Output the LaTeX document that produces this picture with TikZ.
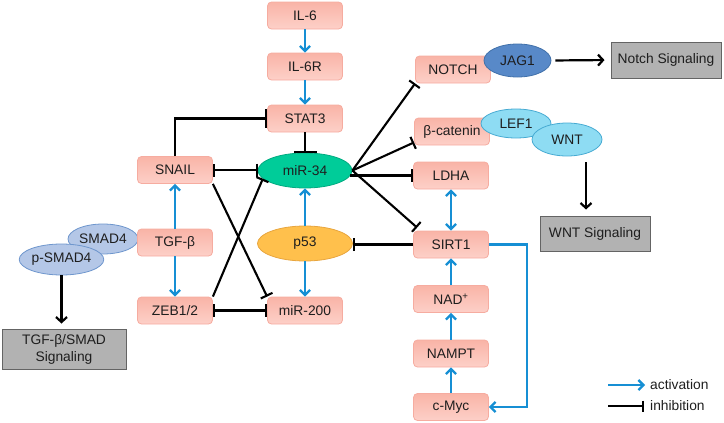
\documentclass[tikz,border=0pt]{standalone}
\usepackage{fontspec}
\setmainfont{Liberation Sans}
\usetikzlibrary{arrows.meta,shapes.geometric,calc}
\definecolor{actblue}{RGB}{22,143,212}
\definecolor{boxtop}{RGB}{249,180,167}
\definecolor{boxbot}{RGB}{253,208,200}
\definecolor{boxline}{RGB}{246,172,160}
\definecolor{mirgreen}{RGB}{0,204,153}
\definecolor{mirline}{RGB}{0,170,128}
\definecolor{porange}{RGB}{255,192,76}
\definecolor{pline}{RGB}{232,165,62}
\definecolor{jagblue}{RGB}{88,137,200}
\definecolor{jagline}{RGB}{65,113,170}
\definecolor{lefblue}{RGB}{142,220,243}
\definecolor{lefline}{RGB}{70,170,210}
\definecolor{smadblue}{RGB}{180,199,231}
\definecolor{smadline}{RGB}{110,150,205}
\definecolor{sigfill}{RGB}{178,178,178}
\definecolor{sigline}{RGB}{100,100,100}
\definecolor{txt}{RGB}{30,30,30}
\begin{document}
\begin{tikzpicture}[x=1pt,y=-1pt,
  font=\fontsize{13.8}{17}\selectfont, text=txt,
  gene/.style={rectangle, rounded corners=4pt, draw=boxline, line width=0.8pt, top color=boxtop, bottom color=boxbot, minimum width=75pt, minimum height=27pt, inner sep=0pt},
  oval/.style={ellipse, inner sep=0pt, line width=0.8pt},
  sigbox/.style={rectangle, draw=sigline, fill=sigfill, line width=1pt, inner sep=0pt, align=center},
  act/.style={draw=actblue, line width=2.3pt, -{Straight Barb[length=5pt,width=10pt]}},
  actboth/.style={act, {Straight Barb[length=5pt,width=10pt]}-{Straight Barb[length=5pt,width=10pt]}},
  inh/.style={draw=black, line width=2.1pt, -{Bar[width=13pt]}},
  inhboth/.style={inh, {Bar[width=13pt]}-{Bar[width=13pt]}},
  blk/.style={draw=black, line width=2.2pt, -{Straight Barb[length=5pt,width=11pt]}},
]
\useasboundingbox (0,0) rectangle (724,423);

% left and middle genes
\node[gene] (il6) at (305,15.5) {IL-6};
\node[gene] (il6r) at (305,66.5) {IL-6R};
\node[gene] (stat3) at (305,118.5) {STAT3};
\node[gene] (snail) at (175,170) {SNAIL};
\node[oval, draw=mirline, fill=mirgreen, minimum width=94pt, minimum height=35pt] (mir34) at (305,170.5) {miR-34};
\node[oval, draw=smadline, fill=smadblue, minimum width=70pt, minimum height=30pt] (smad4) at (103,239) {SMAD4};
\node[oval, draw=smadline, fill=smadblue, minimum width=81pt, minimum height=31pt] (psmad4) at (61.5,259.5) {p-SMAD4};
\node[gene] (tgfb) at (175,242.5) {TGF-β};
\node[oval, draw=pline, fill=porange, minimum width=95pt, minimum height=35pt] (p53) at (305,243.5) {p53};
\node[gene] (zeb) at (175,310.5) {ZEB1/2};
\node[gene] (mir200) at (305,310.5) {miR-200};
\node[sigbox, minimum width=124pt, minimum height=40pt] (tgfsig) at (64,349) {TGF-β/SMAD\\Signaling};

% right column
\node[gene] (notch) at (453,69.5) {NOTCH};
\node[oval, draw=jagline, fill=jagblue, minimum width=67pt, minimum height=33pt] (jag1) at (517.5,60.5) {JAG1};
\node[sigbox, minimum width=110pt, minimum height=36pt] (notchsig) at (666,60) {Notch Signaling};
\node[gene] (bcat) at (452,131.5) {β-catenin};
\node[oval, draw=lefline, fill=lefblue, minimum width=70pt, minimum height=29pt] (lef1) at (516,123.5) {LEF1};
\node[oval, draw=lefline, fill=lefblue, minimum width=70pt, minimum height=33pt] (wnt) at (567,139.5) {WNT};
\node[sigbox, minimum width=110pt, minimum height=35pt] (wntsig) at (595,233.5) {WNT Signaling};
\node[gene] (ldha) at (451,175.5) {LDHA};
\node[gene] (sirt1) at (451,244.5) {SIRT1};
\node[gene] (nad) at (451,299) {NAD\textsuperscript{+}};
\node[gene] (nampt) at (451,353.5) {NAMPT};
\node[gene] (cmyc) at (451,407) {c-Myc};

% activation arrows
\draw[act] (il6.south) -- (il6r.north);
\draw[act] (il6r.south) -- (stat3.north);
\draw[act] (tgfb.north) -- (snail.south);
\draw[act] (tgfb.south) -- (zeb.north);
\draw[act] (p53.north) -- (mir34.south);
\draw[act] (p53.south) -- (mir200.north);
\draw[actboth] (ldha.south) -- (sirt1.north);
\draw[act] (nad.north) -- (sirt1.south);
\draw[act] (nampt.north) -- (nad.south);
\draw[act] (cmyc.north) -- (nampt.south);
\draw[act] (sirt1.east) -- ++(38,0) |- (cmyc.east);

% inhibition
\draw[inh, -{Bar[width=19pt]}] (snail.north) |- (stat3.west);
\draw[inh, -{Bar[width=23pt]}] (stat3.south) -- (mir34.north);
\draw[inhboth] (snail.east) -- (snail.east -| mir34.west);
\draw[inh] (snail.south east) -- (mir200.north west);
\draw[inh] (zeb.north east) -- (mir34.191);
\draw[inhboth] (zeb.east) -- (mir200.west);
\draw[inh] (sirt1.west) -- (sirt1.west -| p53.east);
\draw[inh] (mir34.east) -- (notch.south west);
\draw[inh] (mir34.east) -- ([yshift=3pt]bcat.south west);
\draw[inh] ([xshift=-2pt]mir34.east |- ldha.west) -- (ldha.west);
\draw[inh] (mir34.east) -- ([xshift=4pt,yshift=3pt]sirt1.north west);

% signaling arrows
\draw[blk, shorten <=4pt, shorten >=6pt] (jag1.east) -- (notchsig.west);
\coordinate (wa) at (586,162);
\draw[blk, shorten >=6pt] (wa) -- (wa |- wntsig.north);
\draw[blk, shorten >=5pt] (psmad4.south) -- (psmad4.south |- tgfsig.north);

% legend
\node[anchor=west, inner sep=1pt] (lact) at (649,385) {activation};
\node[anchor=west, inner sep=1pt] (linh) at (649,406) {inhibition};
\coordinate (la) at (608,385);
\coordinate (li) at (608,406);
\draw[act] (la) -- ([xshift=-4pt]lact.west);
\draw[inh, -{Bar[width=11pt]}] (li) -- ([xshift=-5pt]linh.west);
\end{tikzpicture}
\end{document}
